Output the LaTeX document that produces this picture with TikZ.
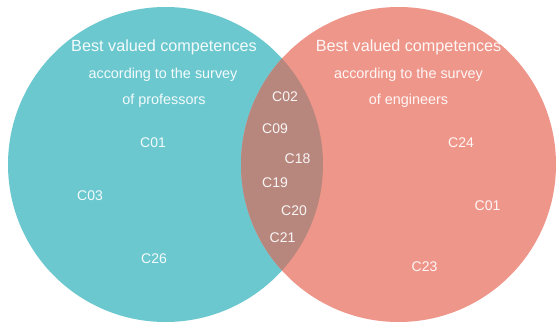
\documentclass[tikz,border=0pt]{standalone}
\usepackage{fontspec}
\setmainfont{Liberation Sans}
\definecolor{tealc}{RGB}{108,200,207}
\definecolor{pinkc}{RGB}{239,150,138}
\definecolor{lensc}{RGB}{183,135,126}
\begin{document}
\begin{tikzpicture}[x=1pt,y=-1pt,
  title/.style={text=white,opacity=0.92,font=\fontsize{16.2}{17}\selectfont,inner sep=0pt,anchor=center},
  sub/.style={text=white,opacity=0.92,font=\fontsize{14.4}{15}\selectfont,inner sep=0pt,anchor=center},
  lbl/.style={text=white,opacity=0.92,font=\fontsize{14}{15}\selectfont,inner sep=0pt,anchor=center}]
\useasboundingbox (0,0) rectangle (556,324);
\fill[white] (0,0) rectangle (556,324);
\coordinate (cl) at (165.5,164.5);
\coordinate (cr) at (398.5,164.5);
\fill[tealc] (cl) circle[radius=157.5];
\fill[pinkc] (cr) circle[radius=157.5];
\begin{scope}
  \clip (cl) circle[radius=157.5];
  \fill[lensc] (cr) circle[radius=157.5];
\end{scope}
% left titles
\node[title] (lt1) at (164,47.5) {Best valued competences};
\node[sub] (lt2) at (163,75) {according to the survey};
\node[sub] (lt3) at (164,101) {of professors};
% right titles
\node[title] (rt1) at (408.5,47.5) {Best valued competences};
\node[sub] (rt2) at (408.5,75) {according to the survey};
\node[sub] (rt3) at (408.5,101) {of engineers};
% left labels
\node[lbl] (l01) at (153,143) {C01};
\node[lbl] (l03) at (90,196) {C03};
\node[lbl] (l26) at (154,259) {C26};
% lens labels
\node[lbl] (c02) at (285,97) {C02};
\node[lbl] (c09) at (275,129) {C09};
\node[lbl] (c18) at (297.5,159) {C18};
\node[lbl] (c19) at (275,183) {C19};
\node[lbl] (c20) at (294,211) {C20};
\node[lbl] (c21) at (282.5,238) {C21};
% right labels
\node[lbl] (r24) at (461,143) {C24};
\node[lbl] (r01) at (487.5,206) {C01};
\node[lbl] (r23) at (424.5,267) {C23};
\end{tikzpicture}
\end{document}
